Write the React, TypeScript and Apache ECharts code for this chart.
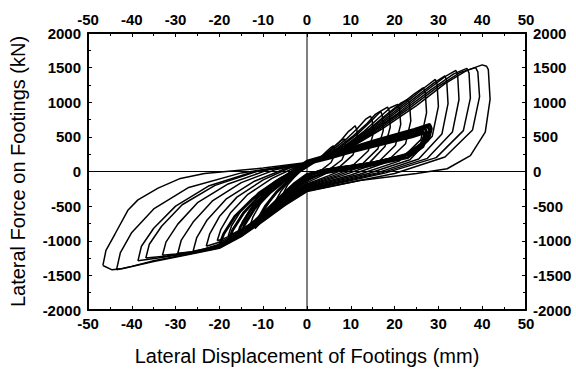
import React, { useEffect, useRef } from "react";
import * as echarts from "echarts";

// Hysteresis loops: [displacement (mm), force (kN)]
const loopA = [[-6,-420],[-5.5,-330],[-4.5,-200],[-3,-90],[-1.5,0],[0,60],[1.5,120],[3,200],[4.5,290],[5.5,350],[6,370],[6.3,330],[6.3,240],[5.5,130],[3.5,30],[1,-60],[0,-110],[-1.5,-180],[-3,-260],[-4.5,-350],[-5.5,-400],[-6,-420]];
const loopB = [[-8,-560],[-7.4,-450],[-6,-290],[-4.2,-150],[-2,-20],[0,80],[2,150],[4,240],[6,350],[7.6,440],[8.5,470],[8.8,420],[8.8,300],[8,170],[5.5,50],[2,-70],[0,-140],[-2,-230],[-4,-340],[-6,-450],[-7.4,-530],[-8,-560]];
const loopC = [[-10.5,-680],[-9.8,-560],[-8,-380],[-5.5,-200],[-2.5,-40],[0,90],[2.5,170],[5,290],[7.5,430],[9.5,580],[10.3,620],[11,660],[11.4,600],[11.5,440],[10.5,240],[7.5,70],[3,-70],[0,-160],[-3,-290],[-6,-440],[-8.5,-580],[-10,-660],[-10.5,-680]];
const loopD = [[-13,-780],[-12.3,-650],[-10.5,-450],[-7.5,-240],[-4,-60],[0,100],[3,180],[6,320],[9,470],[11.5,620],[13.5,760],[14.5,800],[14.9,740],[15.1,540],[14,300],[10.5,90],[5,-60],[0,-180],[-4,-340],[-7.5,-500],[-10.5,-660],[-12.4,-760],[-13,-780]];
const loopE = [[-15.5,-860],[-14.7,-720],[-12.5,-500],[-9,-270],[-5,-80],[0,100],[3.5,190],[7,340],[10.5,510],[13.5,680],[15.5,820],[16.8,870],[17.2,810],[17.4,590],[16.2,330],[12.5,100],[6,-60],[0,-190],[-5,-390],[-9,-570],[-12.5,-740],[-14.8,-840],[-15.5,-860]];
const loopF = [[-18,-930],[-17.2,-780],[-15,-560],[-11,-300],[-6,-90],[0,110],[4,200],[8,370],[11.5,540],[14.5,720],[17,880],[18.4,930],[18.8,870],[19,640],[17.8,360],[14,110],[7,-60],[0,-200],[-5,-400],[-10,-620],[-14,-800],[-17.2,-910],[-18,-930]];
const loopG = [[-20.5,-1000],[-19.7,-840],[-17.5,-600],[-13.5,-330],[-8,-100],[-2,80],[0,120],[4.5,210],[9,390],[13,580],[16.5,780],[19,920],[20.7,970],[21.1,910],[21.4,680],[20.2,380],[16,120],[8,-60],[0,-210],[-5,-410],[-10,-640],[-15,-860],[-19,-970],[-20.5,-1000]];
const loopH = [[-23,-1080],[-22.2,-900],[-20,-650],[-16,-370],[-10,-120],[-4,50],[0,120],[5,220],[10,420],[14.5,630],[18.5,840],[21.5,990],[23,1040],[23.4,980],[23.7,730],[22.5,400],[18,130],[10,-50],[0,-220],[-5,-420],[-10,-650],[-15,-870],[-19.5,-1010],[-23,-1080]];
const loopI = [[-26,-1150],[-25.2,-960],[-22.8,-700],[-18.5,-400],[-12,-140],[-5,40],[0,120],[5.5,230],[11,450],[16,690],[20.5,920],[24.5,1120],[26.6,1210],[27,1140],[27.3,850],[26,460],[21,150],[12,-40],[0,-230],[-5,-430],[-10,-660],[-15,-880],[-20,-1050],[-23.5,-1120],[-26,-1150]];
const loopJ = [[-29.5,-1180],[-28.7,-990],[-26,-730],[-21.5,-420],[-15,-160],[-7,30],[0,120],[6,240],[12,480],[17.5,740],[22.5,990],[27,1220],[29.3,1330],[29.7,1260],[30,940],[28.6,510],[23.5,170],[14,-30],[0,-240],[-5,-440],[-10,-670],[-15,-890],[-20,-1060],[-25,-1150],[-29.5,-1180]];
const loopK = [[-33,-1210],[-32.2,-1020],[-29.5,-760],[-25,-450],[-18,-180],[-9,20],[0,120],[6.5,250],[13,510],[19,790],[24.5,1060],[29,1280],[31.5,1380],[31.9,1310],[32.2,980],[30.8,540],[25.5,180],[16,-20],[0,-250],[-5,-450],[-10,-680],[-15,-900],[-20,-1070],[-26,-1160],[-30,-1190],[-33,-1210]];
const loopL = [[-36.8,-1250],[-36,-1050],[-33.2,-790],[-28.5,-480],[-21,-200],[-11,10],[0,120],[7,260],[14,540],[20.5,830],[26.5,1130],[31.5,1370],[34,1460],[34.4,1390],[34.7,1040],[33.2,570],[27.5,190],[17,-20],[0,-260],[-5,-460],[-10,-690],[-15,-910],[-20,-1080],[-26,-1170],[-32,-1220],[-36.8,-1250]];
const loopM = [[-38.6,-1290],[-37.8,-1080],[-35,-820],[-30,-500],[-22.5,-210],[-12,0],[0,120],[7.5,270],[15,570],[22,880],[28.5,1190],[33.5,1410],[36.5,1490],[37,1420],[37.3,1060],[35.7,590],[29.5,200],[18,-20],[0,-270],[-5,-470],[-10,-700],[-15,-920],[-20,-1090],[-27,-1180],[-34,-1250],[-38.6,-1290]];
const loopN = [[-43.5,-1420],[-42.6,-1170],[-40,-880],[-35,-540],[-27,-230],[-15,-20],[0,120],[8,280],[16,590],[23.5,920],[30,1230],[35,1430],[38.5,1500],[39,1440],[39.4,1080],[37.8,600],[31.5,210],[20,-30],[0,-280],[-5,-480],[-10,-710],[-15,-930],[-20,-1100],[-27,-1190],[-35,-1290],[-40,-1370],[-43.5,-1420]];
const loopO = [[-46.6,-1357],[-45.9,-1140],[-43.9,-910],[-40.9,-560],[-38.6,-410],[-34,-240],[-28.9,-100],[-23.4,-30],[-10,50],[0,130],[8.5,290],[17,610],[25,950],[31.5,1270],[36.5,1460],[40,1540],[41,1520],[41.4,1470],[41.8,1043],[40.7,570],[37.3,230],[32,40],[25,-30],[12,-130],[0,-290],[-5,-490],[-10,-720],[-15,-940],[-20,-1110],[-27,-1200],[-35,-1300],[-42,-1400],[-44.5,-1420],[-46.6,-1357]];

// Dense repeated cycles (thick band)
const band1 = [[-16,-950],[-15.2,-800],[-13,-570],[-9.5,-330],[-5,-100],[0,140],[5,230],[10,330],[15,420],[20,510],[24,580],[27.5,650],[28,600],[27.5,450],[24,260],[15,120],[5,30],[0,-60],[-3,-200],[-6,-380],[-9,-560],[-12,-740],[-14.5,-880],[-16,-950]];
const band2 = [[-15,-900],[-14.2,-760],[-12,-540],[-8.5,-310],[-4,-80],[0,130],[5,220],[10,310],[15,400],[20,490],[24,560],[27,620],[27.4,560],[26.5,420],[23,240],[14,110],[4,20],[0,-50],[-3,-190],[-6,-360],[-9,-540],[-12,-720],[-14,-850],[-15,-900]];
const band3 = [[-18,-1020],[-17,-850],[-14.5,-600],[-11,-360],[-6,-110],[0,150],[5,240],[10,340],[15,440],[20,530],[24.5,610],[28,680],[28.4,620],[27.8,470],[24.5,280],[16,130],[6,40],[0,-40],[-3,-180],[-6,-360],[-9,-560],[-12,-760],[-15,-920],[-18,-1020]];
const band4 = [[-12,-820],[-11.2,-690],[-9.5,-500],[-7,-300],[-3.5,-90],[0,120],[5,200],[10,290],[15,380],[20,460],[24,530],[26.5,580],[26.8,520],[26,390],[22,220],[13,100],[3,10],[0,-70],[-2.5,-200],[-5,-360],[-8,-550],[-10.5,-720],[-12,-820]];
const band5 = [[-20,-1060],[-19,-900],[-16.5,-650],[-12.5,-400],[-7,-140],[0,110],[5,190],[10,280],[15,360],[20,440],[24,500],[27,560],[27.3,500],[26.5,360],[23,200],[14,80],[4,-20],[0,-110],[-3,-250],[-7,-460],[-11,-680],[-14,-830],[-17,-960],[-20,-1060]];

const zeroH = [[-50, 0], [50, 0]];
const zeroV = [[0, -2000], [0, 2000]];

const xTitle = "Lateral Displacement of Footings (mm)";
const yTitle = "Lateral Force on Footings (kN)";

const loops = [loopA, loopB, loopC, loopD, loopE, loopF, loopG, loopH, loopI, loopJ, loopK, loopL, loopM, loopN, loopO];
const bands = [band1, band2, band3, band4, band5];

export default function App() {
  const ref = useRef<HTMLDivElement>(null);
  useEffect(() => {
    if (!ref.current) return;
    const chart = echarts.init(ref.current, undefined, { renderer: "svg" });
    const font = "Liberation Sans, Arial, sans-serif";
    const label = {
      color: "#000",
      fontSize: 15,
      fontWeight: "bold" as const,
      fontFamily: font,
      formatter: (v: number) => String(v),
    };
    const axisCommon = {
      type: "value" as const,
      axisLine: { show: true, onZero: false, lineStyle: { color: "#000", width: 2 } },
      axisTick: { show: true, inside: true, length: 4, lineStyle: { color: "#000", width: 1 } },
      minorTick: { show: true, splitNumber: 2, length: 3, lineStyle: { color: "#000", width: 1 } },
      splitLine: { show: false },
    };
    const lineSeries = (d: number[][], w: number) => ({
      type: "line" as const,
      data: d,
      showSymbol: false,
      symbol: "none",
      smooth: false,
      lineStyle: { color: "#000", width: w },
      silent: true,
    });
    chart.setOption({
      animation: false,
      backgroundColor: "#fff",
      grid: { left: 86, right: 50, top: 33, bottom: 58 },
      xAxis: [
        {
          ...axisCommon,
          position: "bottom",
          min: -50, max: 50, interval: 10,
          axisLabel: { ...label, margin: 6 },
          name: xTitle,
          nameLocation: "middle",
          nameGap: 36,
          nameTextStyle: { color: "#000", fontSize: 20, fontFamily: font },
        },
        {
          ...axisCommon,
          position: "top",
          min: -50, max: 50, interval: 10,
          axisLabel: { ...label, margin: 6 },
        },
      ],
      yAxis: [
        {
          ...axisCommon,
          position: "left",
          min: -2000, max: 2000, interval: 500,
          axisLabel: { ...label, margin: 7 },
          name: yTitle,
          nameLocation: "middle",
          nameGap: 60,
          nameTextStyle: { color: "#000", fontSize: 20, fontFamily: font },
        },
        {
          ...axisCommon,
          position: "right",
          min: -2000, max: 2000, interval: 500,
          axisLabel: { ...label, margin: 7 },
        },
      ],
      series: [
        lineSeries(zeroH, 1),
        lineSeries(zeroV, 1),
        ...bands.map((b) => lineSeries(b, 2.8)),
        ...loops.map((l) => lineSeries(l, 1.5)),
      ],
    });
    return () => chart.dispose();
  }, []);
  return <div ref={ref} style={{ width: 576, height: 371, position: "absolute", left: 0, top: 0 }} />;
}
